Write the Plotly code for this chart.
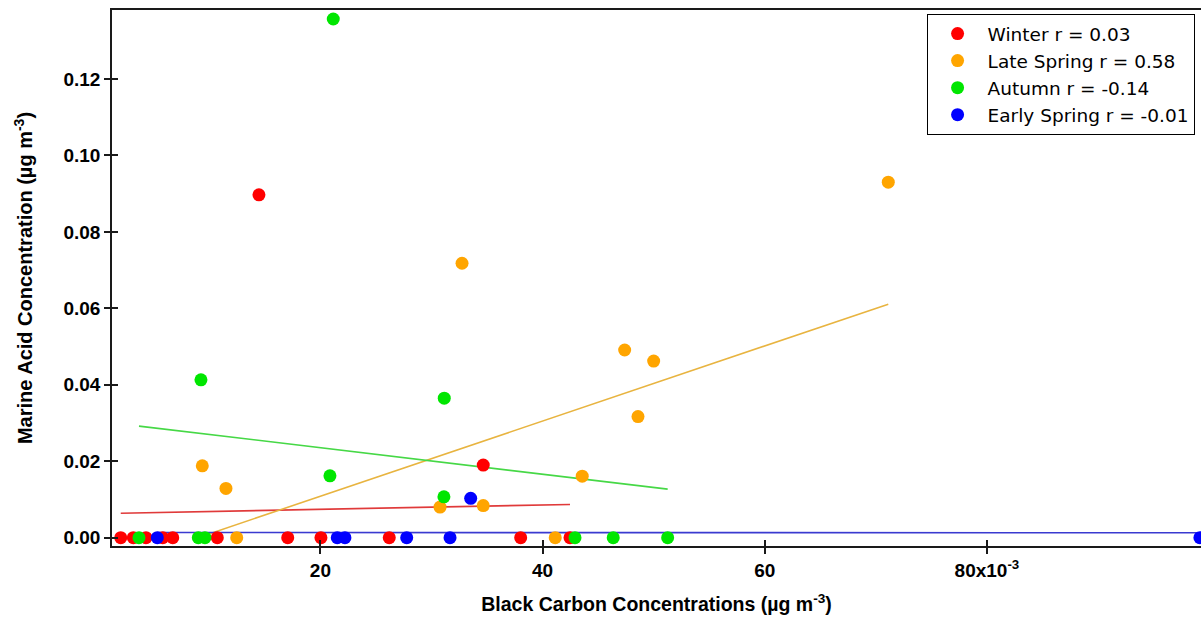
import plotly.graph_objects as go

# ---- data ----
winter_x = [2.03, 3.16, 4.30, 5.81, 6.71, 10.72, 14.47, 17.06, 20.05, 26.2, 34.66, 38.03, 42.47]
winter_y = [0, 0, 0, 0, 0, 0, 0.0897, 0, 0, 0, 0.0190, 0, 0]

late_x = [9.37, 11.5, 12.47, 30.77, 32.75, 34.66, 41.14, 43.57, 47.39, 48.59, 50.0, 71.12]
late_y = [0.0188, 0.0129, 0, 0.0080, 0.0718, 0.0084, 0, 0.0161, 0.0491, 0.0317, 0.0462, 0.0930]

autumn_x = [3.67, 9.01, 9.25, 9.61, 20.86, 21.16, 31.12, 31.15, 42.92, 46.36, 51.26]
autumn_y = [0, 0, 0.0413, 0, 0.0162, 0.1357, 0.0107, 0.0365, 0, 0, 0]

early_x = [5.32, 21.52, 22.21, 27.77, 31.67, 33.53, 99.17]
early_y = [0, 0, 0, 0, 0, 0.0103, 0]

# linear fit end points
winter_fit_x = [2.03, 42.47]
winter_fit_y = [0.0064, 0.0087]
late_fit_x = [9.37, 71.12]
late_fit_y = [0.0004, 0.0611]
autumn_fit_x = [3.67, 51.26]
autumn_fit_y = [0.0292, 0.0127]
early_fit_x = [5.32, 99.17]
early_fit_y = [0.00135, 0.0013]

names = ["Winter r = 0.03", "Late Spring r = 0.58", "Autumn r = -0.14", "Early Spring r = -0.01"]

x_tickvals = [20, 40, 60, 80]
x_ticktext = ["20", "40", "60", "80x10<sup>-3</sup>"]
y_tickvals = [0.00, 0.02, 0.04, 0.06, 0.08, 0.10, 0.12]
y_ticktext = ["0.00", "0.02", "0.04", "0.06", "0.08", "0.10", "0.12"]

x_range = [1.242, 99.27]
y_range = [-0.00217, 0.13805]

dot_colors = ["#ff0000", "#ffa500", "#00e600", "#0000ff"]
line_colors = ["#e03a3a", "#e8b440", "#46d846", "#3a3ad0"]

series = [
    (winter_x, winter_y, winter_fit_x, winter_fit_y),
    (late_x, late_y, late_fit_x, late_fit_y),
    (autumn_x, autumn_y, autumn_fit_x, autumn_fit_y),
    (early_x, early_y, early_fit_x, early_fit_y),
]

fig = go.Figure()

# fit lines (drawn beneath the dots)
for i, (_, _, fx, fy) in enumerate(series):
    fig.add_trace(go.Scatter(x=fx, y=fy, mode="lines", showlegend=False,
                             line=dict(color=line_colors[i], width=1.6),
                             hoverinfo="skip"))

# dots
for i, (sx, sy, _, _) in enumerate(series):
    fig.add_trace(go.Scatter(x=sx, y=sy, mode="markers", name=names[i],
                             marker=dict(color=dot_colors[i], size=13,
                                         line=dict(width=0))))

# dummy trace for the overlay axes (inner half of the crossing ticks)
fig.add_trace(go.Scatter(x=[None], y=[None], xaxis="x2", yaxis="y2",
                         showlegend=False, hoverinfo="skip"))

axis_color = "#1a1a1a"
tick_font = dict(family="Liberation Sans, Arial, sans-serif", size=19,
                 color="#000000", weight="bold")
x_title_font = dict(family="Liberation Sans, Arial, sans-serif", size=19.5, color="#000000")
y_title_font = dict(family="Liberation Sans, Arial, sans-serif", size=20, color="#000000")

fig.update_layout(
    width=1201, height=621,
    margin=dict(l=112, r=0, t=10, b=75, autoexpand=False),
    paper_bgcolor="white", plot_bgcolor="white",
    xaxis=dict(
        range=x_range, tickmode="array", tickvals=x_tickvals, ticktext=x_ticktext,
        ticks="outside", ticklen=6, tickwidth=1.5, tickcolor=axis_color,
        showline=True, linecolor=axis_color, linewidth=1.6, mirror=True,
        showgrid=False, zeroline=False,
        tickfont=tick_font,
        title=dict(text="<b>Black Carbon Concentrations (µg m<sup>-3</sup>)</b>",
                   font=x_title_font, standoff=18),
    ),
    yaxis=dict(
        range=y_range, tickmode="array", tickvals=y_tickvals, ticktext=y_ticktext,
        ticks="outside", ticklen=6, tickwidth=1.5, tickcolor=axis_color,
        showline=True, linecolor=axis_color, linewidth=1.6, mirror=False,
        showgrid=False, zeroline=False,
        tickfont=tick_font,
        title=dict(text="<b>Marine Acid Concentration (µg m<sup>-3</sup>)</b>",
                   font=y_title_font, standoff=25),
    ),
    xaxis2=dict(
        overlaying="x", anchor="y2", range=x_range, tickmode="array",
        tickvals=x_tickvals, ticks="inside", ticklen=6, tickwidth=1.5,
        tickcolor=axis_color, showticklabels=False, showline=False,
        showgrid=False, zeroline=False,
    ),
    yaxis2=dict(
        overlaying="y", anchor="x2", side="left", range=y_range, tickmode="array",
        tickvals=y_tickvals, ticks="inside", ticklen=6, tickwidth=1.5,
        tickcolor=axis_color, showticklabels=False, showline=False,
        showgrid=False, zeroline=False,
    ),
    showlegend=True,
    legend=dict(
        x=0.748, xanchor="left", y=0.9925, yanchor="top",
        bgcolor="white", bordercolor="#000000", borderwidth=1,
        font=dict(family="DejaVu Sans, sans-serif", size=18.5, color="#000000"),
        itemwidth=50,
    ),
    font=dict(family="Liberation Sans, Arial, sans-serif"),
)

fig.write_html("out.html")
